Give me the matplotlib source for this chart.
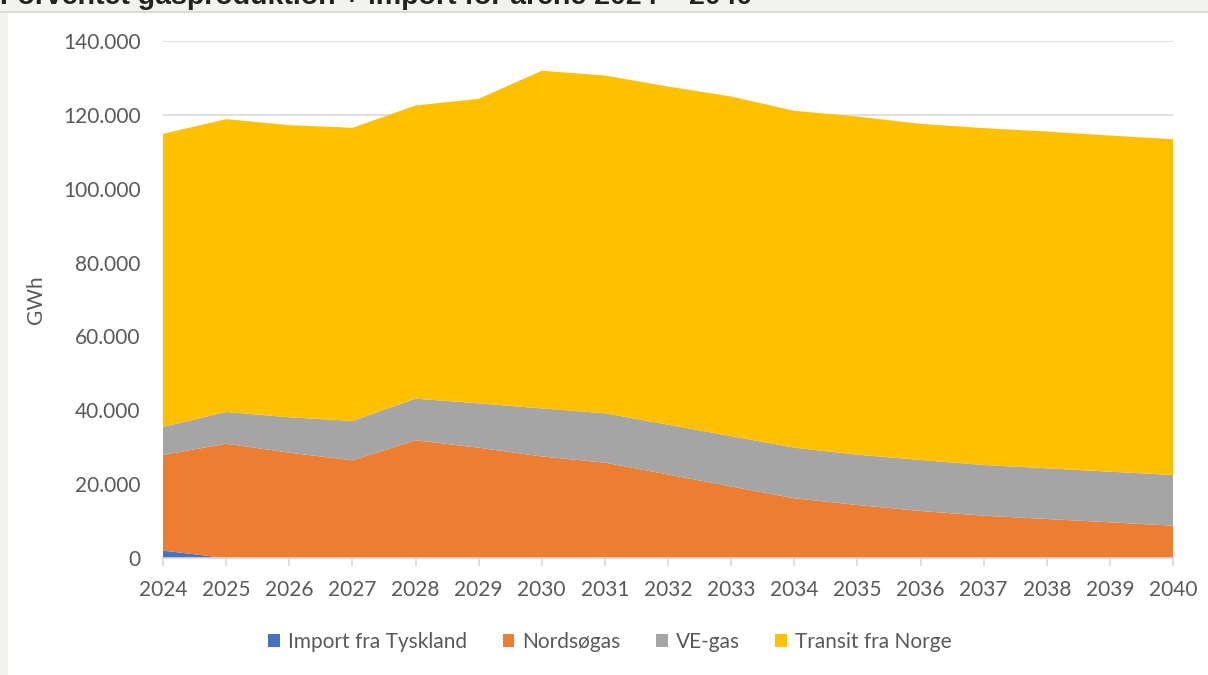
import numpy as np
import matplotlib.pyplot as plt
from matplotlib.ticker import FuncFormatter
from matplotlib.patches import Rectangle

plt.rcParams['font.family'] = ['Lato', 'DejaVu Sans']

years = list(range(2024, 2041))

# GWh per series (stacked)
import_de = [2000, 0, 0, 0, 0, 0, 0, 0, 0, 0, 0, 0, 0, 0, 0, 0, 0]
nordsoegas = [25900, 30960, 28530, 26460, 31880, 29880, 27500, 25820, 22620,
              19370, 16170, 14360, 12730, 11460, 10570, 9670, 8750]
ve_gas = [7590, 8590, 9580, 10650, 11270, 12020, 13000, 13380, 13490,
          13630, 13710, 13620, 13820, 13730, 13720, 13710, 13730]
transit_no = [79370, 79290, 79110, 79380, 79380, 82440, 91430, 91460, 91560,
              91970, 91210, 91570, 91020, 91220, 91200, 91020, 90940]

labels = ["Import fra Tyskland", "Nordsøgas", "VE-gas", "Transit fra Norge"]
colors = ["#4472C4", "#ED7D31", "#A5A5A5", "#FFC000"]

title = "Forventet gasproduktion + import for årene 2024 – 2040"

fig = plt.figure(figsize=(12.08, 6.75), dpi=100)

# grey frame strips at top and left (page background)
fig.patches.append(Rectangle((0, 1 - 11 / 675), 1, 11 / 675, transform=fig.transFigure,
                             facecolor="#f2f2ee", edgecolor="none", zorder=0))
fig.patches.append(Rectangle((0, 0), 8 / 1208, 1, transform=fig.transFigure,
                             facecolor="#f2f2ee", edgecolor="none", zorder=0))
fig.lines.append(plt.Line2D([0, 1], [1 - 11.5 / 675] * 2, transform=fig.transFigure,
                            color="#d4d4d0", lw=1.2))
fig.text(0.0, 1 - 4 / 675, title, fontsize=20.5, fontweight="bold",
         family="Liberation Sans", color="#222222", va="baseline", ha="left")

ax = fig.add_axes([163 / 1208, 1 - 558 / 675, (1173 - 163) / 1208, (558 - 41) / 675])
ax.stackplot(years, import_de, nordsoegas, ve_gas, transit_no,
             labels=labels, colors=colors, linewidth=0, zorder=2)

ax.set_xlim(2024, 2040)
ax.set_ylim(0, 140000)
ax.set_xticks(years)
ax.set_yticks(np.arange(0, 140001, 20000))
ax.yaxis.set_major_formatter(FuncFormatter(lambda v, p: f"{v:,.0f}".replace(",", ".")))

ax.grid(axis="y", color="#d9d9d9", linewidth=1.2, zorder=1)
ax.set_axisbelow(True)
for s in ["top", "right", "left"]:
    ax.spines[s].set_visible(False)
ax.spines["bottom"].set_color("#d9d9d9")
ax.spines["bottom"].set_linewidth(1.2)
ax.spines["bottom"].set_zorder(3)

ax.tick_params(axis="y", length=0, pad=16, labelsize=15, labelcolor="#595959")
ax.tick_params(axis="x", length=6, width=1.2, color="#d9d9d9", pad=10,
               labelsize=15, labelcolor="#595959")

ax.set_ylabel("GWh", fontsize=15, color="#595959", labelpad=12)

fig.legend(loc="center", bbox_to_anchor=(0.505, 1 - 642 / 675), ncol=4, frameon=False,
           fontsize=15, labelcolor="#595959", handlelength=0.55, handleheight=0.55,
           handletextpad=0.4, columnspacing=1.7)

fig.savefig("out.png", dpi=100)
